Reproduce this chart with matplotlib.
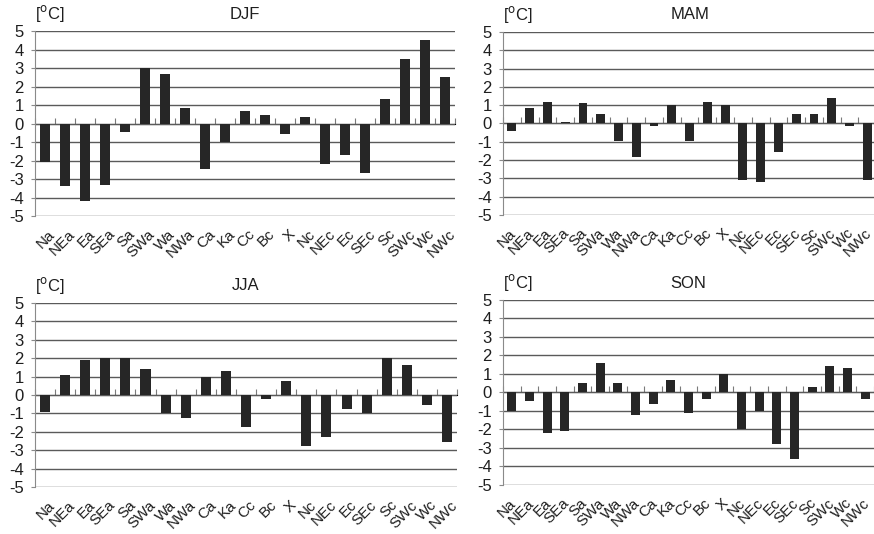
import numpy as np
import matplotlib.pyplot as plt
import matplotlib.transforms as mtransforms

plt.rcParams['font.family'] = ['Liberation Sans', 'DejaVu Sans']
plt.rcParams['axes.unicode_minus'] = False

types = ['Na', 'NEa', 'Ea', 'SEa', 'Sa', 'SWa', 'Wa', 'NWa', 'Ca', 'Ka', 'Cc',
         'Bc', 'X', 'Nc', 'NEc', 'Ec', 'SEc', 'Sc', 'SWc', 'Wc', 'NWc']

djf = [-2.1, -3.4, -4.2, -3.3, -0.45, 3.0, 2.7, 0.85, -2.45, -1.0, 0.65,
       0.45, -0.55, 0.35, -2.2, -1.7, -2.7, 1.3, 3.5, 4.5, 2.5]
mam = [-0.4, 0.85, 1.2, 0.1, 1.1, 0.5, -0.95, -1.85, -0.15, 1.0, -0.95,
       1.2, 1.0, -3.1, -3.2, -1.55, 0.5, 0.5, 1.4, -0.15, -3.1]
jja = [-0.95, 1.1, 1.9, 2.0, 2.0, 1.4, -1.0, -1.25, 1.0, 1.3, -1.75,
       -0.2, 0.75, -2.75, -2.3, -0.75, -1.0, 2.0, 1.65, -0.55, -2.55]
son = [-1.0, -0.45, -2.2, -2.1, 0.5, 1.6, 0.5, -1.2, -0.6, 0.7, -1.1,
       -0.35, 1.0, -2.0, -1.0, -2.8, -3.6, 0.3, 1.45, 1.35, -0.35]

panels = [
    ('DJF', djf, [0.040, 0.5955, 0.4805, 0.3464], 3),
    ('MAM', mam, [0.5755, 0.5974, 0.427, 0.3427], -3),
    ('JJA', jja, [0.040, 0.088, 0.483, 0.3446], 3),
    ('SON', son, [0.5755, 0.0918, 0.4245, 0.3464], -3),
]

fig = plt.figure(figsize=(8.74, 5.34), dpi=100)
grid_col = '#5a5a5a'
txt_col = '#1e1e1e'
fs = 12

for name, vals, rect, dx in panels:
    ax = fig.add_axes(rect)
    x = np.arange(len(types))
    ax.bar(x, vals, width=0.5, color='#262626', zorder=3)
    ax.set_xlim(-0.5, len(types) - 0.5)
    ax.set_ylim(-5, 5)
    ax.set_yticks(range(-5, 6))
    ax.yaxis.grid(True, color=grid_col, linewidth=1.0, zorder=0)
    for s in ['top', 'right', 'bottom']:
        ax.spines[s].set_visible(False)
    ax.spines['left'].set_color('#8a8a8a')
    ax.tick_params(axis='y', length=3, color='#8a8a8a', labelsize=fs,
                   labelcolor=txt_col, pad=5)
    ax.set_xticks(x)
    ax.set_xticklabels(types, rotation=45, ha='right', rotation_mode='anchor',
                       fontsize=11, color=txt_col)
    ax.tick_params(axis='x', length=0, pad=8)
    shift = mtransforms.ScaledTranslation(dx / 100, 0, fig.dpi_scale_trans)
    for lab in ax.get_xticklabels():
        lab.set_transform(lab.get_transform() + shift)

    # zero line with small ticks between categories
    sec = ax.secondary_xaxis(0.5)
    sec.set_xticks(np.arange(len(types) + 1) - 0.5)
    sec.set_xticklabels([])
    sec.tick_params(length=4, color='#7a7a7a', direction='out')
    sec.spines['bottom'].set_color('#7a7a7a')

    ax.set_title(name, fontsize=fs, pad=9, color=txt_col)
    ax.text(0.0, 1.04, r'[$^{\mathrm{o}}$C]', transform=ax.transAxes,
            fontsize=fs, ha='left', va='bottom', color=txt_col)

fig.savefig('out.png', dpi=100)
